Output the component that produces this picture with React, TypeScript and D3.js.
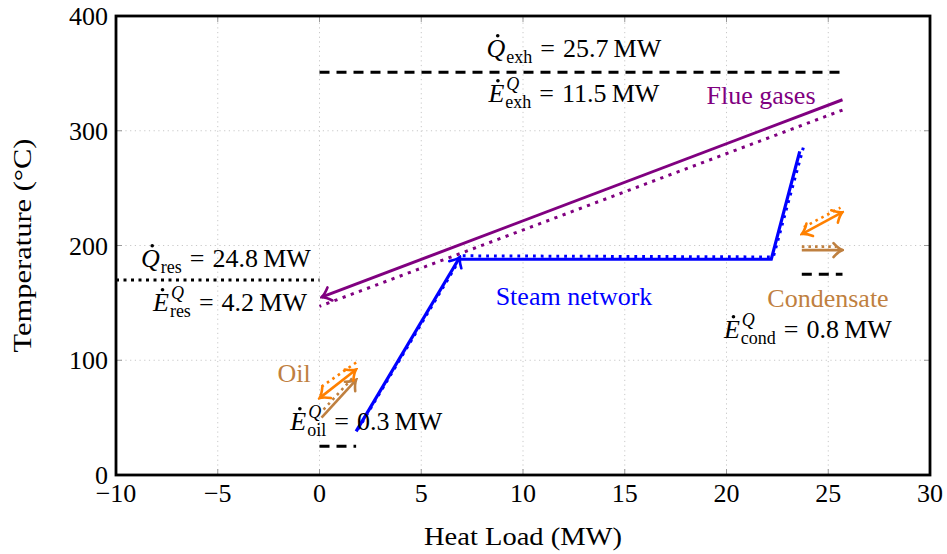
import React, { useEffect, useRef } from 'react';
import * as d3 from 'd3';

const W = 947;
const H = 554;

const xTicks = [-10, -5, 0, 5, 10, 15, 20, 25, 30];
const yTicks = [0, 100, 200, 300, 400];

// heat load (MW), temperature (°C)
const flueGas: [number, number][] = [[25.7, 327], [0.1, 155]];
const flueGasDotted: [number, number][] = [[25.7, 318], [0.0, 147]];
const steamRise: [number, number][] = [[1.8, 38], [6.9, 190]];
const steamRest: [number, number][] = [[6.9, 188], [22.2, 188], [23.6, 282]];
const steamDotted: [number, number][] = [[1.9, 40], [7.0, 191], [22.3, 190], [23.8, 287]];
const oilHeat: [number, number][] = [[0.1, 50], [1.8, 83]];
const oilHeatDotted: [number, number][] = [[0.2, 57], [1.7, 86]];
const oilExergy: [number, number][] = [[0.0, 67], [1.8, 92]];
const oilExergyDotted: [number, number][] = [[0.1, 77], [1.8, 98]];
const oilRef: [number, number][] = [[0, 25], [1.8, 25]];
const condHeat: [number, number][] = [[23.7, 196], [25.7, 196]];
const condHeatDotted: [number, number][] = [[23.7, 199], [25.4, 199]];
const condExergy: [number, number][] = [[23.7, 210], [25.7, 229]];
const condExergyDotted: [number, number][] = [[23.8, 216], [25.6, 233]];
const condRef: [number, number][] = [[23.7, 175], [25.7, 175]];
const exhaustRef: [number, number][] = [[0, 351], [25.7, 351]];
const residualRef: [number, number][] = [[-10, 170], [0, 170]];

const heatFlows = [
  { key: 'exh', value: 25.7 },
  { key: 'res', value: 24.8 },
];
const exergyFlows = [
  { key: 'exh', value: 11.5 },
  { key: 'res', value: 4.2 },
  { key: 'cond', value: 0.8 },
  { key: 'oil', value: 0.3 },
];
const streamNames = ['Flue gases', 'Steam network', 'Condensate', 'Oil'];

const FONT = '"Liberation Serif", "DejaVu Serif", serif';
const FS = 26;
const SS = 18;

const PURPLE = '#800080';
const BLUE = '#0000ff';
const ORANGE = '#ff8000';
const BROWN = '#bf8040';

const App = () => {
  const svgRef = useRef<SVGSVGElement>(null);

  useEffect(() => {
    const svg = d3.select(svgRef.current);
    svg.selectAll('*').remove();

    const x = d3.scaleLinear().domain([-10, 30]).range([116, 930]);
    const y = d3.scaleLinear().domain([0, 400]).range([475, 16]);

    // arrow markers
    const defs = svg.append('defs');
    [['purple', PURPLE], ['blue', BLUE], ['orange', ORANGE], ['brown', BROWN]].forEach(([n, c]) => {
      defs.append('marker')
        .attr('id', `arrow-${n}`)
        .attr('viewBox', '-12 -10 14 20')
        .attr('refX', 0).attr('refY', 0)
        .attr('markerWidth', 14).attr('markerHeight', 20)
        .attr('markerUnits', 'userSpaceOnUse')
        .attr('orient', 'auto-start-reverse')
        .append('path')
        .attr('d', 'M -9 -7 Q -4 -1.5 0 0 Q -4 1.5 -9 7')
        .attr('fill', 'none')
        .attr('stroke', c)
        .attr('stroke-width', 2.6)
        .attr('stroke-linecap', 'round');
    });

    // grid
    const grid = svg.append('g');
    xTicks.forEach(t => {
      grid.append('line')
        .attr('x1', x(t)).attr('x2', x(t)).attr('y1', y(0)).attr('y2', y(400))
        .attr('stroke', '#c8c8c8').attr('stroke-width', 1).attr('stroke-dasharray', '1.2 3.5');
    });
    yTicks.forEach(t => {
      grid.append('line')
        .attr('x1', x(-10)).attr('x2', x(30)).attr('y1', y(t)).attr('y2', y(t))
        .attr('stroke', '#c8c8c8').attr('stroke-width', 1).attr('stroke-dasharray', '1.2 3.5');
    });

    // tick marks
    xTicks.forEach(t => {
      grid.append('line').attr('x1', x(t)).attr('x2', x(t)).attr('y1', y(0)).attr('y2', y(0) - 6)
        .attr('stroke', '#999').attr('stroke-width', 1);
      grid.append('line').attr('x1', x(t)).attr('x2', x(t)).attr('y1', y(400)).attr('y2', y(400) + 6)
        .attr('stroke', '#999').attr('stroke-width', 1);
    });
    yTicks.forEach(t => {
      grid.append('line').attr('x1', x(-10)).attr('x2', x(-10) + 6).attr('y1', y(t)).attr('y2', y(t))
        .attr('stroke', '#999').attr('stroke-width', 1);
      grid.append('line').attr('x1', x(30)).attr('x2', x(30) - 6).attr('y1', y(t)).attr('y2', y(t))
        .attr('stroke', '#999').attr('stroke-width', 1);
    });

    const line = d3.line<[number, number]>().x(d => x(d[0])).y(d => y(d[1]));

    const draw = (data: [number, number][], color: string, opts: { w?: number; dash?: string; end?: string; start?: string } = {}) => {
      const p = svg.append('path')
        .attr('d', line(data))
        .attr('fill', 'none')
        .attr('stroke', color)
        .attr('stroke-width', opts.w ?? 3)
        .attr('stroke-linejoin', 'miter');
      if (opts.dash) p.attr('stroke-dasharray', opts.dash);
      if (opts.end) p.attr('marker-end', `url(#arrow-${opts.end})`);
      if (opts.start) p.attr('marker-start', `url(#arrow-${opts.start})`);
      return p;
    };

    const DOT = '3.2 5.5';
    const DASH = '10 7';

    // reference levels
    draw(exhaustRef, 'black', { w: 3, dash: DASH });
    draw(residualRef, 'black', { w: 3, dash: '3 4.5' });
    draw(oilRef, 'black', { w: 3, dash: DASH });
    draw(condRef, 'black', { w: 3, dash: DASH });

    // flue gases
    draw(flueGasDotted, PURPLE, { w: 3, dash: DOT });
    draw(flueGas, PURPLE, { w: 3, end: 'purple' });

    // steam network
    draw(steamDotted, BLUE, { w: 3, dash: '2.8 5' });
    draw(steamRise, BLUE, { w: 3.2, end: 'blue' });
    draw(steamRest, BLUE, { w: 3.2 });

    // oil
    draw(oilHeatDotted, BROWN, { w: 2.6, dash: '2.6 4' });
    draw(oilHeat, BROWN, { w: 2.6, end: 'brown' });
    draw(oilExergyDotted, ORANGE, { w: 2.6, dash: '2.6 4' });
    draw(oilExergy, ORANGE, { w: 2.6, end: 'orange', start: 'orange' });

    // condensate
    draw(condHeatDotted, BROWN, { w: 2.6, dash: '2.6 4' });
    draw(condHeat, BROWN, { w: 2.6, end: 'brown' });
    draw(condExergyDotted, ORANGE, { w: 2.6, dash: '2.6 4' });
    draw(condExergy, ORANGE, { w: 2.6, end: 'orange', start: 'orange' });

    // frame
    svg.append('rect')
      .attr('x', x(-10)).attr('y', y(400))
      .attr('width', x(30) - x(-10)).attr('height', y(0) - y(400))
      .attr('fill', 'none').attr('stroke', 'black').attr('stroke-width', 2.8);

    const txt = svg.append('g').attr('font-family', FONT).attr('font-size', FS);

    // tick labels
    const fmt = (v: number) => (v < 0 ? `\u2212${Math.abs(v)}` : `${v}`);
    xTicks.forEach(t => {
      txt.append('text')
        .attr('x', x(t)).attr('y', y(0) + 27)
        .attr('text-anchor', 'middle')
        .text(fmt(t));
    });
    yTicks.forEach(t => {
      txt.append('text')
        .attr('x', x(-10) - 8).attr('y', y(t) + 9)
        .attr('text-anchor', 'end')
        .text(fmt(t));
    });

    // axis titles
    txt.append('text')
      .attr('x', x(10)).attr('y', 545)
      .attr('text-anchor', 'middle')
      .attr('textLength', 198).attr('lengthAdjust', 'spacingAndGlyphs')
      .text('Heat Load (MW)');
    txt.append('text')
      .attr('transform', `translate(31,${(y(0) + y(400)) / 2}) rotate(-90)`)
      .attr('text-anchor', 'middle')
      .attr('textLength', 214).attr('lengthAdjust', 'spacingAndGlyphs')
      .text('Temperature (\u00b0C)');

    // math labels: dotted symbol with sub/superscript, centred at (cx, baseline)
    const mathLabel = (cx: number, by: number, sym: string, sup: string | null, sub: string, value: number) => {
      const g = txt.append('g');
      const main = g.append('text').attr('x', 0).attr('y', 0)
        .attr('font-style', 'italic').text(sym);
      const mw = (main.node() as SVGTextElement).getComputedTextLength();
      g.append('circle').attr('cx', mw * 0.6).attr('cy', -FS * 0.82).attr('r', 1.8).attr('fill', 'black');
      const sx = mw + 1;
      let sw = 0;
      if (sup) {
        const s = g.append('text').attr('x', sx + 1).attr('y', -12)
          .attr('font-size', SS).attr('font-style', 'italic').text(sup);
        sw = (s.node() as SVGTextElement).getComputedTextLength() + 1;
      }
      const b = g.append('text').attr('x', sx).attr('y', 6)
        .attr('font-size', SS).text(sub);
      sw = Math.max(sw, (b.node() as SVGTextElement).getComputedTextLength());
      const vx = sx + sw + 8;
      const eq = g.append('text').attr('x', vx).attr('y', 0).text('=');
      const ew = (eq.node() as SVGTextElement).getComputedTextLength();
      const v = g.append('text').attr('x', vx + ew + 8).attr('y', 0)
        .style('white-space', 'pre')
        .text(`${value}\u2009MW`);
      const total = vx + ew + 8 + (v.node() as SVGTextElement).getComputedTextLength();
      g.attr('transform', `translate(${cx - total / 2},${by})`);
    };

    const heat = Object.fromEntries(heatFlows.map(d => [d.key, d.value]));
    const exergy = Object.fromEntries(exergyFlows.map(d => [d.key, d.value]));

    mathLabel(x(12.5), 57, 'Q', null, 'exh', heat.exh);
    mathLabel(x(12.5), 102, 'E', 'Q', 'exh', exergy.exh);
    mathLabel(x(-4.6), 267, 'Q', null, 'res', heat.res);
    mathLabel(x(-4.4), 311, 'E', 'Q', 'res', exergy.res);
    mathLabel(x(24.0), 338, 'E', 'Q', 'cond', exergy.cond);
    mathLabel(x(2.3), 430, 'E', 'Q', 'oil', exergy.oil);

    const nameLabel = (cx: number, by: number, text: string, color: string) => {
      txt.append('text').attr('x', cx).attr('y', by)
        .attr('text-anchor', 'middle')
        .attr('fill', color).text(text);
    };
    nameLabel(761, 104, streamNames[0], PURPLE);
    nameLabel(574, 305, streamNames[1], BLUE);
    nameLabel(828, 307, streamNames[2], BROWN);
    nameLabel(294, 382, streamNames[3], BROWN);
  }, []);

  return (
    <svg ref={svgRef} width={W} height={H} style={{ position: 'absolute', left: 0, top: 0, background: 'white' }} />
  );
};

export default App;
